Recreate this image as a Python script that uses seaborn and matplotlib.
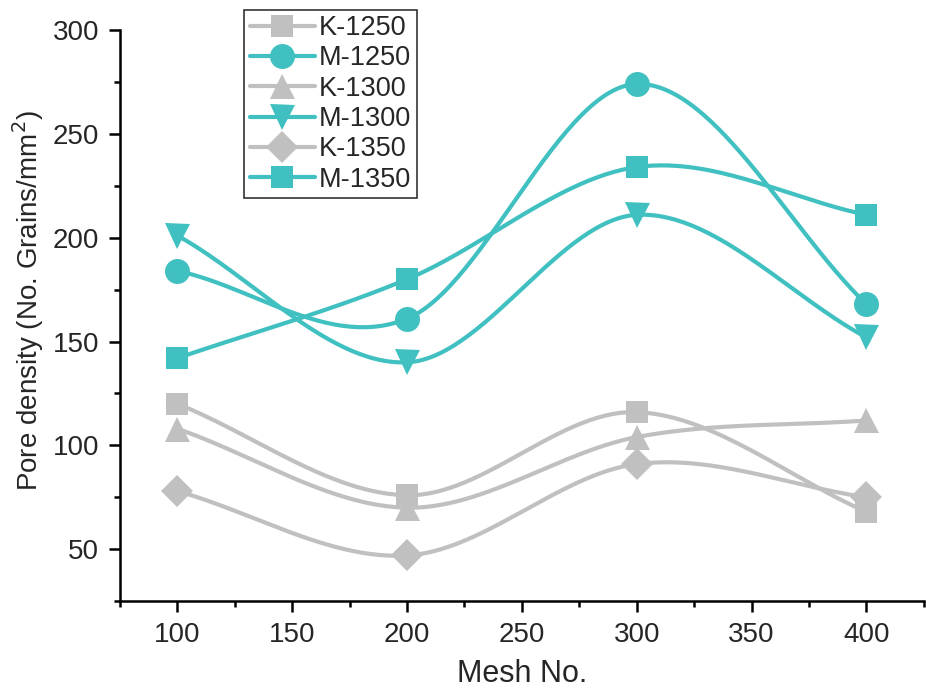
import numpy as np
import pandas as pd
import matplotlib
matplotlib.use("Agg")
import matplotlib.pyplot as plt
from matplotlib.lines import Line2D
from matplotlib.ticker import MultipleLocator
import seaborn as sns

mesh = [100, 200, 300, 400]
k1250 = [120, 76, 116, 68]
m1250 = [184, 161, 274, 168]
k1300 = [108, 70, 104, 112]
m1300 = [201, 140, 211, 152]
k1350 = [78, 47, 91, 75]
m1350 = [142, 180, 234, 211]

series = [
    ("K-1250", k1250, "s"),
    ("M-1250", m1250, "o"),
    ("K-1300", k1300, "^"),
    ("M-1300", m1300, "v"),
    ("K-1350", k1350, "D"),
    ("M-1350", m1350, "s"),
]
GRAY = "#C0C0C0"
TEAL = "#40C0C0"


def smooth_curve(x, y, n=60):
    """Catmull-Rom style cubic Hermite curve through the points."""
    x = np.asarray(x, float)
    y = np.asarray(y, float)
    m = len(x)
    t = np.empty(m)
    t[0] = (y[1] - y[0]) / (x[1] - x[0])
    t[-1] = (y[-1] - y[-2]) / (x[-1] - x[-2])
    for i in range(1, m - 1):
        t[i] = (y[i + 1] - y[i - 1]) / (x[i + 1] - x[i - 1])
    xs_all, ys_all = [], []
    for i in range(m - 1):
        h = x[i + 1] - x[i]
        s = np.linspace(0, 1, n)
        h00 = 2 * s**3 - 3 * s**2 + 1
        h10 = s**3 - 2 * s**2 + s
        h01 = -2 * s**3 + 3 * s**2
        h11 = s**3 - s**2
        ys = h00 * y[i] + h10 * h * t[i] + h01 * y[i + 1] + h11 * h * t[i + 1]
        xs = x[i] + s * h
        if i > 0:
            xs, ys = xs[1:], ys[1:]
        xs_all.append(xs)
        ys_all.append(ys)
    return np.concatenate(xs_all), np.concatenate(ys_all)


sns.set_theme(style="ticks")
plt.rcParams["font.family"] = ["Liberation Sans", "DejaVu Sans"]

fig = plt.figure(figsize=(9.26, 6.91), dpi=100)
ax = fig.add_axes([0.1296, 0.130, 0.868, 0.8266])

handles = []
for name, vals, mk in series:
    col = GRAY if name.startswith("K") else TEAL
    xs, ys = smooth_curve(mesh, vals)
    curve = pd.DataFrame({"x": xs, "y": ys})
    sns.lineplot(data=curve, x="x", y="y", ax=ax, color=col, lw=3.0,
                 sort=False, legend=False)
    pts = pd.DataFrame({"x": mesh, "y": vals})
    ms = 16 if mk in ("s", "D") else 18
    ax.plot(pts["x"], pts["y"], linestyle="none", marker=mk, color=col,
            markersize=ms, markeredgewidth=0, zorder=5)
    handles.append(Line2D([], [], color=col, lw=3.0, marker=mk,
                          markersize=ms, markeredgewidth=0, label=name))

ax.set_xlim(75, 425)
ax.set_ylim(25, 300)
ax.set_xticks([100, 150, 200, 250, 300, 350, 400])
ax.set_yticks([50, 100, 150, 200, 250, 300])
ax.xaxis.set_minor_locator(MultipleLocator(25))
ax.yaxis.set_minor_locator(MultipleLocator(25))
sns.despine(ax=ax)
for s in ("left", "bottom"):
    ax.spines[s].set_linewidth(1.8)
    ax.spines[s].set_color("black")
ax.tick_params(axis="both", which="major", direction="out", length=8,
               width=1.8, labelsize=20, color="black", pad=7)
ax.tick_params(axis="both", which="minor", direction="out", length=4,
               width=1.8, color="black")
ax.set_xlabel("Mesh No.", fontsize=22, labelpad=8)
ax.set_ylabel("Pore density (No. Grains/mm$^2$)", fontsize=20)
ax.yaxis.set_label_coords(-0.092, 0.527)

leg = fig.legend(handles=handles, loc="upper left",
                 bbox_to_anchor=(0.264, 0.986), fontsize=19.5, frameon=True,
                 fancybox=False, edgecolor="black", handlelength=2.4,
                 borderpad=0.2, labelspacing=0.16, handletextpad=0.15,
                 borderaxespad=0)
leg.get_frame().set_linewidth(1.2)

fig.savefig("out.png", dpi=100)
